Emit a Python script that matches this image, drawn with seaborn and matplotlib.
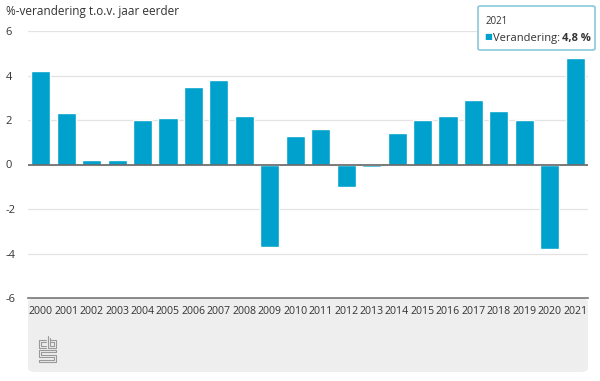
import numpy as np
import pandas as pd
import matplotlib.pyplot as plt
import seaborn as sns
from matplotlib.patches import FancyBboxPatch
from matplotlib.lines import Line2D

# Data
years = [str(y) for y in range(2000, 2022)]
change = [4.2, 2.3, 0.2, 0.2, 2.0, 2.1, 3.5, 3.8, 2.2, -3.7, 1.3,
          1.6, -1.0, -0.1, 1.4, 2.0, 2.2, 2.9, 2.4, 2.0, -3.8, 4.8]
yticks = [-6, -4, -2, 0, 2, 4, 6]

df = pd.DataFrame({"jaar": years, "verandering": change})

sns.set_style("white")
plt.rcParams['font.family'] = ['Open Sans', 'DejaVu Sans']

fig = plt.figure(figsize=(6, 3.81), dpi=100)

# grey footer panel with rounded corners
panel = FancyBboxPatch((28 / 600, 1 - 372 / 381), 560 / 600, 74 / 381,
                       boxstyle="round,pad=0,rounding_size=0.012",
                       transform=fig.transFigure, facecolor="#eeeeee",
                       edgecolor="none", zorder=-1)
fig.patches.append(panel)

ax = fig.add_axes([28 / 600, 1 - 298 / 381, 560 / 600, 267 / 381])
ax.set_facecolor("none")

sns.barplot(data=df, x="jaar", y="verandering", color="#00a1cd",
            saturation=1, width=0.75, ax=ax, zorder=3)

ax.set_ylim(-6, 6)
ax.set_xlim(-0.5, len(years) - 0.5)
ax.set_yticks(yticks)
ax.set_yticklabels([str(t) for t in yticks])
ax.grid(axis="y", color="#e3e3e3", linewidth=0.9, zorder=0)
ax.axhline(0, color="#666666", linewidth=1.2, zorder=4)
for s in ["top", "right", "left"]:
    ax.spines[s].set_visible(False)
ax.spines["bottom"].set_color("#777777")
ax.spines["bottom"].set_linewidth(1.2)
ax.set_xlabel("")
ax.set_ylabel("")
ax.tick_params(axis="x", length=0, pad=6, labelsize=7.6, colors="#333333")
ax.tick_params(axis="y", length=0, pad=16, labelsize=8, colors="#333333")
for lab in ax.get_yticklabels():
    lab.set_horizontalalignment("left")

fig.text(6 / 600, 1 - 12 / 381, "%-verandering t.o.v. jaar eerder",
         fontsize=8.5, color="#333333", va="center", ha="left")

# tooltip box
tip = FancyBboxPatch((478 / 600, 1 - 50 / 381), 117 / 600, 44 / 381,
                     boxstyle="round,pad=0,rounding_size=0.004",
                     transform=fig.transFigure, facecolor="white",
                     edgecolor="#8cc8dc", linewidth=1.2, zorder=10)
fig.patches.append(tip)
fig.text(486 / 600, 1 - 21 / 381, "2021", fontsize=7, color="#333333",
         va="center", ha="left", zorder=11)
fig.text(484 / 600, 1 - 38 / 381, "\u25a0", fontsize=6, color="#00a1cd",
         va="center", ha="left", zorder=11)
fig.text(493 / 600, 1 - 38 / 381, "Verandering: ", fontsize=8,
         color="#333333", va="center", ha="left", zorder=11)
fig.text(591 / 600, 1 - 38 / 381, "4,8 %", fontsize=8, fontweight="bold",
         color="#333333", va="center", ha="right", zorder=11)

# rough cbs logo
logo = [
    [(39, 340), (39, 348), (46, 348)], [(39, 340), (46, 340)],
    [(41, 342), (41, 346), (46, 346)], [(41, 342), (46, 342)],
    [(48, 336), (48, 348), (56, 348), (56, 340), (50, 340)],
    [(50, 338), (50, 346), (54, 346), (54, 342), (50, 342)],
    [(39, 350), (56, 350), (56, 352), (41, 352), (41, 355), (56, 355),
     (56, 362), (39, 362), (39, 360), (54, 360), (54, 357), (39, 357), (39, 350)],
]
for seg in logo:
    xs = [p[0] / 600 for p in seg]
    ys = [1 - p[1] / 381 for p in seg]
    fig.lines.append(Line2D(xs, ys, transform=fig.transFigure,
                            color="#9a9a9a", linewidth=0.8))

fig.savefig("out.png", dpi=100)
